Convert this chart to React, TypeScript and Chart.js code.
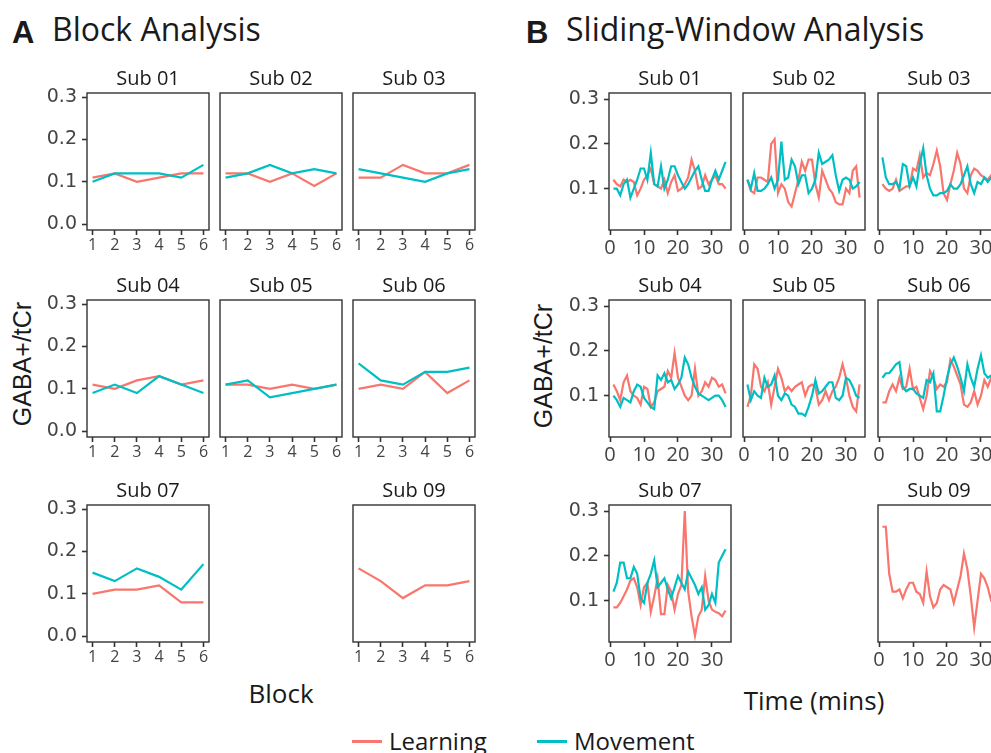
import React, { useEffect, useRef } from "react";
import { Chart, registerables } from "chart.js";

Chart.register(...registerables);

// ---------- data ----------
const RED = "#F8766D";
const TEAL = "#00BFC4";

const blockX = [1, 2, 3, 4, 5, 6];
const blockXTicks = [1, 2, 3, 4, 5, 6];
const blockYTicks = [0, 0.1, 0.2, 0.3];

const timeX = [1, 2, 3, 4, 5, 6, 7, 8, 9, 10, 11, 12, 13, 14, 15, 16, 17, 18, 19, 20, 21, 22, 23, 24, 25, 26, 27, 28, 29, 30, 31, 32, 33, 34];
const timeXTicks = [0, 10, 20, 30];
const timeYTicks = [0.1, 0.2, 0.3];

// Block analysis (A)
const blkSub01L = [0.11, 0.12, 0.10, 0.11, 0.12, 0.12];
const blkSub01M = [0.10, 0.12, 0.12, 0.12, 0.11, 0.14];
const blkSub02L = [0.12, 0.12, 0.10, 0.12, 0.09, 0.12];
const blkSub02M = [0.11, 0.12, 0.14, 0.12, 0.13, 0.12];
const blkSub03L = [0.11, 0.11, 0.14, 0.12, 0.12, 0.14];
const blkSub03M = [0.13, 0.12, 0.11, 0.10, 0.12, 0.13];
const blkSub04L = [0.11, 0.10, 0.12, 0.13, 0.11, 0.12];
const blkSub04M = [0.09, 0.11, 0.09, 0.13, 0.11, 0.09];
const blkSub05L = [0.11, 0.11, 0.10, 0.11, 0.10, 0.11];
const blkSub05M = [0.11, 0.12, 0.08, 0.09, 0.10, 0.11];
const blkSub06L = [0.10, 0.11, 0.10, 0.14, 0.09, 0.12];
const blkSub06M = [0.16, 0.12, 0.11, 0.14, 0.14, 0.15];
const blkSub07L = [0.10, 0.11, 0.11, 0.12, 0.08, 0.08];
const blkSub07M = [0.15, 0.13, 0.16, 0.14, 0.11, 0.17];
const blkSub09L = [0.16, 0.13, 0.09, 0.12, 0.12, 0.13];

// Sliding-window analysis (B)
const swSub01L = [0.12, 0.11, 0.105, 0.12, 0.115, 0.12, 0.115, 0.085, 0.10, 0.12, 0.13, 0.145, 0.11, 0.105, 0.10, 0.12, 0.09, 0.115, 0.13, 0.095, 0.10, 0.11, 0.125, 0.165, 0.14, 0.10, 0.105, 0.13, 0.11, 0.12, 0.13, 0.11, 0.11, 0.10];
const swSub01M = [0.10, 0.10, 0.085, 0.11, 0.12, 0.08, 0.10, 0.12, 0.145, 0.145, 0.12, 0.18, 0.11, 0.105, 0.15, 0.10, 0.12, 0.15, 0.15, 0.13, 0.115, 0.10, 0.11, 0.125, 0.14, 0.15, 0.12, 0.095, 0.095, 0.12, 0.14, 0.12, 0.14, 0.16];
const swSub02L = [0.12, 0.095, 0.09, 0.125, 0.125, 0.12, 0.115, 0.20, 0.21, 0.09, 0.11, 0.10, 0.07, 0.06, 0.09, 0.12, 0.16, 0.14, 0.165, 0.165, 0.11, 0.08, 0.14, 0.12, 0.10, 0.09, 0.07, 0.065, 0.065, 0.10, 0.09, 0.14, 0.15, 0.08];
const swSub02M = [0.12, 0.10, 0.135, 0.095, 0.095, 0.10, 0.11, 0.125, 0.10, 0.12, 0.205, 0.12, 0.125, 0.165, 0.15, 0.11, 0.13, 0.13, 0.09, 0.10, 0.12, 0.18, 0.155, 0.16, 0.165, 0.175, 0.13, 0.095, 0.12, 0.125, 0.12, 0.10, 0.105, 0.115];
const swSub03L = [0.11, 0.10, 0.095, 0.10, 0.12, 0.095, 0.10, 0.105, 0.105, 0.145, 0.14, 0.175, 0.125, 0.135, 0.13, 0.155, 0.185, 0.15, 0.09, 0.075, 0.11, 0.14, 0.18, 0.155, 0.10, 0.09, 0.13, 0.145, 0.14, 0.13, 0.125, 0.12, 0.13, 0.125];
const swSub03M = [0.17, 0.125, 0.11, 0.11, 0.115, 0.10, 0.155, 0.15, 0.105, 0.125, 0.105, 0.155, 0.19, 0.13, 0.10, 0.085, 0.085, 0.09, 0.09, 0.095, 0.11, 0.10, 0.10, 0.11, 0.13, 0.15, 0.11, 0.09, 0.115, 0.11, 0.125, 0.115, 0.125, 0.13];
const swSub04L = [0.125, 0.11, 0.09, 0.13, 0.145, 0.11, 0.10, 0.095, 0.08, 0.12, 0.115, 0.075, 0.085, 0.11, 0.115, 0.12, 0.155, 0.14, 0.195, 0.14, 0.12, 0.10, 0.09, 0.10, 0.16, 0.10, 0.11, 0.13, 0.12, 0.14, 0.135, 0.12, 0.125, 0.105];
const swSub04M = [0.10, 0.09, 0.075, 0.095, 0.09, 0.085, 0.11, 0.125, 0.12, 0.095, 0.085, 0.075, 0.07, 0.145, 0.135, 0.15, 0.13, 0.135, 0.115, 0.125, 0.14, 0.185, 0.17, 0.14, 0.12, 0.105, 0.10, 0.095, 0.09, 0.095, 0.10, 0.10, 0.09, 0.075];
const swSub05L = [0.075, 0.10, 0.17, 0.16, 0.12, 0.11, 0.13, 0.08, 0.12, 0.16, 0.14, 0.11, 0.12, 0.11, 0.12, 0.125, 0.13, 0.10, 0.12, 0.125, 0.12, 0.08, 0.09, 0.11, 0.09, 0.11, 0.12, 0.14, 0.17, 0.14, 0.10, 0.075, 0.065, 0.125];
const swSub05M = [0.125, 0.09, 0.11, 0.10, 0.095, 0.14, 0.12, 0.125, 0.145, 0.10, 0.09, 0.105, 0.10, 0.08, 0.075, 0.06, 0.06, 0.055, 0.075, 0.10, 0.135, 0.105, 0.11, 0.12, 0.13, 0.13, 0.095, 0.09, 0.10, 0.14, 0.135, 0.12, 0.10, 0.095];
const swSub06L = [0.085, 0.085, 0.11, 0.125, 0.11, 0.14, 0.115, 0.12, 0.16, 0.115, 0.12, 0.095, 0.07, 0.10, 0.155, 0.14, 0.115, 0.125, 0.12, 0.13, 0.18, 0.165, 0.145, 0.125, 0.08, 0.075, 0.085, 0.11, 0.08, 0.10, 0.135, 0.12, 0.14, 0.125];
const swSub06M = [0.14, 0.15, 0.15, 0.16, 0.17, 0.175, 0.12, 0.11, 0.115, 0.115, 0.105, 0.10, 0.095, 0.135, 0.13, 0.15, 0.065, 0.065, 0.10, 0.14, 0.17, 0.185, 0.165, 0.14, 0.11, 0.17, 0.14, 0.12, 0.16, 0.19, 0.15, 0.14, 0.145, 0.14];
const swSub07L = [0.085, 0.085, 0.095, 0.11, 0.125, 0.145, 0.15, 0.13, 0.09, 0.13, 0.14, 0.075, 0.11, 0.15, 0.07, 0.07, 0.135, 0.12, 0.08, 0.115, 0.135, 0.30, 0.12, 0.065, 0.022, 0.065, 0.08, 0.155, 0.10, 0.08, 0.075, 0.072, 0.065, 0.078];
const swSub07M = [0.12, 0.14, 0.185, 0.185, 0.15, 0.15, 0.175, 0.16, 0.105, 0.095, 0.14, 0.16, 0.19, 0.13, 0.14, 0.15, 0.125, 0.105, 0.13, 0.155, 0.14, 0.125, 0.165, 0.15, 0.135, 0.115, 0.13, 0.08, 0.09, 0.115, 0.095, 0.185, 0.20, 0.215];
const swSub09L = [0.265, 0.265, 0.16, 0.12, 0.12, 0.125, 0.105, 0.125, 0.14, 0.14, 0.12, 0.115, 0.095, 0.165, 0.11, 0.085, 0.095, 0.125, 0.135, 0.13, 0.125, 0.095, 0.125, 0.155, 0.205, 0.17, 0.11, 0.04, 0.10, 0.16, 0.15, 0.13, 0.10, 0.10];

// ---------- layout ----------
const W = 122;
const H = 137;
const ROWS = [93, 300, 505];
const A_COLS = [87, 220, 353];
const B_COLS = [609, 743, 878];
const PAD_L = 58;
const PAD_T = 30;
const PAD_R = 14;
const PAD_B = 34;

const boxPlugin = {
  id: "facetBox",
  afterDraw(chart: any, _args: any, opts: any) {
    const { ctx, chartArea } = chart;
    const { left, top, right, bottom } = chartArea;
    ctx.save();
    ctx.strokeStyle = "#333333";
    ctx.lineWidth = 1.4;
    ctx.strokeRect(left, top, right - left, bottom - top);
    ctx.fillStyle = "#1a1a1a";
    ctx.font = '20px "Open Sans"';
    ctx.textAlign = "center";
    ctx.textBaseline = "alphabetic";
    ctx.fillText(opts.title, (left + right) / 2, top - 8);
    ctx.restore();
  },
};

type FacetProps = {
  left: number;
  top: number;
  title: string;
  xs: number[];
  learning: number[];
  movement?: number[];
  xMin: number;
  xMax: number;
  xTicks: number[];
  xFont: number;
  yMin: number;
  yMax: number;
  yTicks: number[];
  showY: boolean;
};

function Facet(p: FacetProps) {
  const ref = useRef<HTMLCanvasElement>(null);
  useEffect(() => {
    if (!ref.current) return;
    const datasets: any[] = [];
    if (p.movement) {
      datasets.push({
        label: "Movement",
        data: p.xs.map((x, i) => ({ x, y: p.movement![i] })),
        borderColor: TEAL,
        borderWidth: 2.2,
        pointRadius: 0,
        fill: false,
        tension: 0,
      });
    }
    datasets.push({
      label: "Learning",
      data: p.xs.map((x, i) => ({ x, y: p.learning[i] })),
      borderColor: RED,
      borderWidth: 2.2,
      pointRadius: 0,
      fill: false,
      tension: 0,
    });
    const tickGrid = {
      drawOnChartArea: false,
      drawTicks: true,
      tickLength: 5,
      tickWidth: 1.6,
      tickColor: "#333333",
    };
    const chart = new Chart(ref.current, {
      type: "line",
      data: { datasets },
      plugins: [boxPlugin],
      options: {
        animation: false,
        responsive: false,
        devicePixelRatio: 1,
        layout: { padding: { left: 0, top: PAD_T, right: PAD_R, bottom: 0 } },
        plugins: {
          legend: { display: false },
          tooltip: { enabled: false },
          facetBox: { title: p.title },
        } as any,
        scales: {
          x: {
            type: "linear",
            min: p.xMin,
            max: p.xMax,
            afterBuildTicks: (s: any) => {
              s.ticks = p.xTicks.map((v) => ({ value: v }));
            },
            afterFit: (s: any) => {
              s.height = PAD_B;
            },
            grid: tickGrid,
            border: { display: false },
            ticks: {
              color: "#444444",
              font: { family: "Open Sans", size: p.xFont },
              padding: 1,
              maxRotation: 0,
              autoSkip: false,
              callback: (v: any) => String(v),
            },
          },
          y: {
            type: "linear",
            display: true,
            min: p.yMin,
            max: p.yMax,
            afterBuildTicks: (s: any) => {
              s.ticks = p.yTicks.map((v) => ({ value: v }));
            },
            afterFit: (s: any) => {
              s.width = PAD_L;
            },
            grid: p.showY ? tickGrid : { display: false },
            border: { display: false },
            ticks: {
              display: p.showY,
              color: "#444444",
              font: { family: "DejaVu Sans", size: 19 },
              padding: 5,
              autoSkip: false,
              callback: (v: any) => Number(v).toFixed(1),
            },
          },
        },
      } as any,
    });
    return () => chart.destroy();
  }, []);
  return (
    <canvas
      ref={ref}
      width={PAD_L + W + PAD_R}
      height={PAD_T + H + PAD_B}
      style={{
        position: "absolute",
        left: p.left - PAD_L,
        top: p.top - PAD_T,
        width: PAD_L + W + PAD_R,
        height: PAD_T + H + PAD_B,
      }}
    />
  );
}

type Sub = { title: string; row: number; col: number; L: number[]; M?: number[] };

const blockSubs: Sub[] = [
  { title: "Sub 01", row: 0, col: 0, L: blkSub01L, M: blkSub01M },
  { title: "Sub 02", row: 0, col: 1, L: blkSub02L, M: blkSub02M },
  { title: "Sub 03", row: 0, col: 2, L: blkSub03L, M: blkSub03M },
  { title: "Sub 04", row: 1, col: 0, L: blkSub04L, M: blkSub04M },
  { title: "Sub 05", row: 1, col: 1, L: blkSub05L, M: blkSub05M },
  { title: "Sub 06", row: 1, col: 2, L: blkSub06L, M: blkSub06M },
  { title: "Sub 07", row: 2, col: 0, L: blkSub07L, M: blkSub07M },
  { title: "Sub 09", row: 2, col: 2, L: blkSub09L },
];

const swSubs: Sub[] = [
  { title: "Sub 01", row: 0, col: 0, L: swSub01L, M: swSub01M },
  { title: "Sub 02", row: 0, col: 1, L: swSub02L, M: swSub02M },
  { title: "Sub 03", row: 0, col: 2, L: swSub03L, M: swSub03M },
  { title: "Sub 04", row: 1, col: 0, L: swSub04L, M: swSub04M },
  { title: "Sub 05", row: 1, col: 1, L: swSub05L, M: swSub05M },
  { title: "Sub 06", row: 1, col: 2, L: swSub06L, M: swSub06M },
  { title: "Sub 07", row: 2, col: 0, L: swSub07L, M: swSub07M },
  { title: "Sub 09", row: 2, col: 2, L: swSub09L },
];

const abs = (s: React.CSSProperties): React.CSSProperties => ({ position: "absolute", whiteSpace: "nowrap", ...s });

export default function App() {
  return (
    <div
      style={{
        position: "fixed",
        left: 0,
        top: 0,
        width: 991,
        height: 753,
        overflow: "hidden",
        background: "#ffffff",
        fontFamily: '"Open Sans", sans-serif',
        color: "#1a1a1a",
      }}
    >
      {/* Titles */}
      <div style={abs({ left: 12, top: 17, fontFamily: '"Liberation Sans", Arial', fontWeight: 700, fontSize: 31, lineHeight: "31px" })}>A</div>
      <div style={abs({ left: 52, top: 13, fontSize: 32, lineHeight: "31px" })}>Block Analysis</div>
      <div style={abs({ left: 526, top: 17, fontFamily: '"Liberation Sans", Arial', fontWeight: 700, fontSize: 31, lineHeight: "31px" })}>B</div>
      <div style={abs({ left: 566, top: 13, fontSize: 32, lineHeight: "31px" })}>Sliding-Window Analysis</div>

      {/* Y axis titles */}
      <div style={abs({ left: 22, top: 364, transform: "translate(-50%, -50%) rotate(-90deg)", fontFamily: '"Liberation Sans", Arial', fontSize: 25, lineHeight: "25px" })}>GABA+/tCr</div>
      <div style={abs({ left: 543, top: 366, transform: "translate(-50%, -50%) rotate(-90deg)", fontFamily: '"Liberation Sans", Arial', fontSize: 25, lineHeight: "25px" })}>GABA+/tCr</div>

      {/* X axis titles */}
      <div style={abs({ left: 281, top: 693, transform: "translate(-50%, -50%)", fontSize: 26, lineHeight: "26px" })}>Block</div>
      <div style={abs({ left: 814, top: 700, transform: "translate(-50%, -50%)", fontSize: 26, lineHeight: "26px" })}>Time (mins)</div>

      {/* Facets */}
      {blockSubs.map((s) => (
        <Facet
          key={"A" + s.title}
          left={A_COLS[s.col]}
          top={ROWS[s.row]}
          title={s.title}
          xs={blockX}
          learning={s.L}
          movement={s.M}
          xMin={0.75}
          xMax={6.25}
          xTicks={blockXTicks}
          xFont={16}
          yMin={-0.0136}
          yMax={0.3095}
          yTicks={blockYTicks}
          showY={s.col === 0}
        />
      ))}
      {swSubs.map((s) => (
        <Facet
          key={"B" + s.title}
          left={B_COLS[s.col]}
          top={ROWS[s.row]}
          title={s.title}
          xs={timeX}
          learning={s.L}
          movement={s.M}
          xMin={-0.3}
          xMax={35.6}
          xTicks={timeXTicks}
          xFont={20}
          yMin={0.0078}
          yMax={0.3135}
          yTicks={timeYTicks}
          showY={s.col === 0}
        />
      ))}

      {/* Legend */}
      <div style={abs({ left: 352, top: 740, width: 30, height: 3, background: RED })} />
      <div style={abs({ left: 389, top: 726, fontSize: 24, lineHeight: "30px" })}>Learning</div>
      <div style={abs({ left: 537, top: 740, width: 30, height: 3, background: TEAL })} />
      <div style={abs({ left: 574, top: 726, fontSize: 24, lineHeight: "30px" })}>Movement</div>
    </div>
  );
}
